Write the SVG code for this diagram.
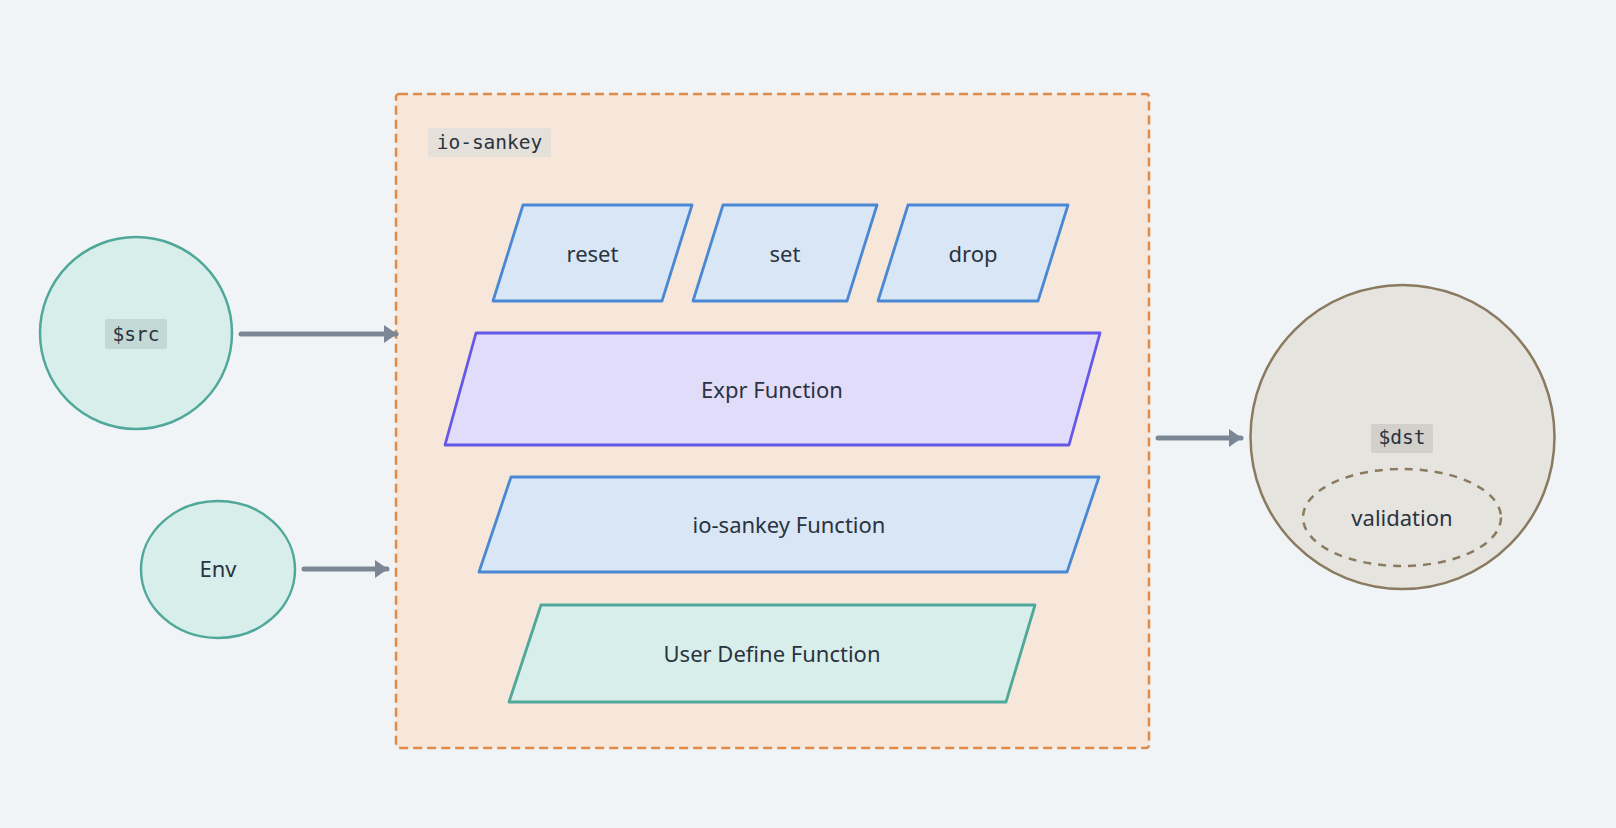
<svg xmlns="http://www.w3.org/2000/svg" width="1616" height="828" viewBox="0 0 1616 828">
<defs>
<marker id="arr" viewBox="0 0 13 18" refX="12" refY="9" markerWidth="13" markerHeight="18" markerUnits="userSpaceOnUse" orient="auto">
<path d="M0,0 L13,9 L0,18 Z" fill="#7c8796"/>
</marker>
<style>
.lbl{font-family:"Noto Sans","Liberation Sans",sans-serif;font-size:22px;fill:#2a3340;text-anchor:middle}
.mono{font-family:"DejaVu Sans Mono","Liberation Mono",monospace;font-size:19.5px;fill:#2a3340;text-anchor:middle}
.blue{fill:#d9e6f5;stroke:#4a88d4;stroke-width:2.8;stroke-linejoin:round}
.conn{stroke:#7c8796;stroke-width:5;stroke-linecap:round;fill:none}
</style>
</defs>
<rect width="1616" height="828" fill="#f0f4f7"/>
<g id="container">
<rect x="396" y="94" width="753" height="654" rx="3" fill="#f7e6da" stroke="#e08b4a" stroke-width="2.5" stroke-dasharray="9,5"/>
<rect x="428" y="128" width="123" height="29" rx="2" fill="#e6e0da"/>
<text class="mono" x="489.5" y="149">io-sankey</text>
</g>
<g id="reset">
<polygon class="blue" points="523,205 692,205 662,301 493,301"/>
<text class="lbl" x="592.5" y="262">reset</text>
</g>
<g id="set">
<polygon class="blue" points="723,205 877,205 847,301 693,301"/>
<text class="lbl" x="785" y="262">set</text>
</g>
<g id="drop">
<polygon class="blue" points="908,205 1068,205 1038,301 878,301"/>
<text class="lbl" x="973" y="262">drop</text>
</g>
<g id="expr">
<polygon points="476,333 1100,333 1069,445 445,445" fill="#e0dcfa" stroke="#6459e6" stroke-width="2.8" stroke-linejoin="round"/>
<text class="lbl" x="772" y="398">Expr Function</text>
</g>
<g id="iosankey-fn">
<polygon class="blue" points="511,477 1099,477 1067,572 479,572"/>
<text class="lbl" x="789" y="533">io-sankey Function</text>
</g>
<g id="udf">
<polygon points="541,605 1035,605 1006,702 509,702" fill="#d8eeeb" stroke="#4fa89a" stroke-width="2.8" stroke-linejoin="round"/>
<text class="lbl" x="772" y="662">User Define Function</text>
</g>
<g id="src">
<circle cx="136" cy="333" r="96" fill="#d8eeeb" stroke="#4fa89a" stroke-width="2.5"/>
<rect x="105" y="319" width="62" height="30" rx="2" fill="#c3d9d5"/>
<text class="mono" x="136" y="341">$src</text>
</g>
<g id="env">
<ellipse cx="218" cy="569.5" rx="77" ry="68.5" fill="#d8eeeb" stroke="#4fa89a" stroke-width="2.5"/>
<text class="lbl" x="218" y="577">Env</text>
</g>
<g id="dst">
<circle cx="1402.5" cy="437" r="152" fill="#e6e4df" stroke="#8a7a60" stroke-width="2.5"/>
<rect x="1371" y="424" width="62" height="29" rx="2" fill="#d2d0ca"/>
<text class="mono" x="1402" y="444">$dst</text>
<ellipse cx="1402" cy="517.5" rx="99" ry="48.5" fill="none" stroke="#8a7a60" stroke-width="2.5" stroke-dasharray="8,7"/>
<text class="lbl" x="1402" y="526">validation</text>
</g>
<g id="connectors">
<line class="conn" x1="241" y1="334" x2="396" y2="334" marker-end="url(#arr)"/>
<line class="conn" x1="304" y1="569" x2="387" y2="569" marker-end="url(#arr)"/>
<line class="conn" x1="1158" y1="438" x2="1241" y2="438" marker-end="url(#arr)"/>
</g>
</svg>
